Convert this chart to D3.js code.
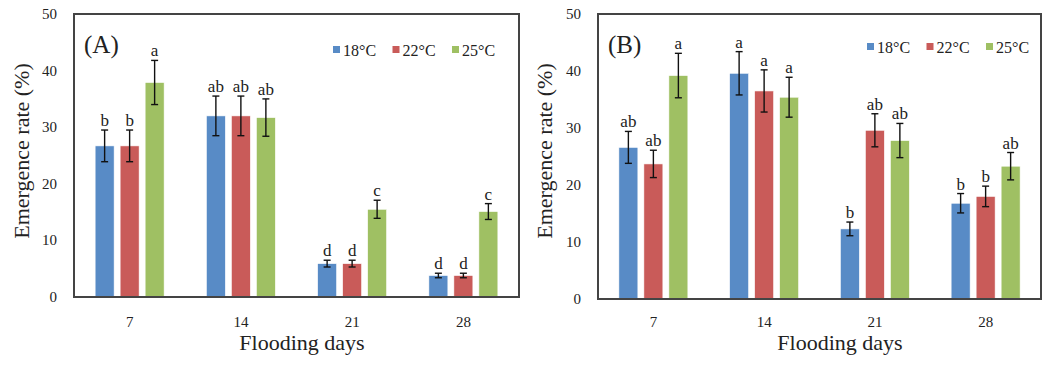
<!DOCTYPE html>
<html>
<head>
<meta charset="utf-8">
<script src="https://cdn.jsdelivr.net/npm/d3@7"></script>
<style>
  body { margin: 0; background: #fff; }
  text { font-family: "Liberation Serif", "Times New Roman", serif; fill: #222; }
</style>
</head>
<body>
<svg id="chart" width="1043" height="366"></svg>
<script>
// data
var days = ["7", "14", "21", "28"];
var temps = ["18°C", "22°C", "25°C"];
var colors = ["#588bc6", "#c95b59", "#9fc063"];
var yTicks = [0, 10, 20, 30, 40, 50];

// panel A: means, errors, letters per temperature
var aMeans = [[26.7, 32.0, 5.9, 3.8], [26.7, 32.0, 5.9, 3.8], [37.9, 31.7, 15.5, 15.1]];
var aErr = [[2.8, 3.5, 0.6, 0.4], [2.8, 3.5, 0.6, 0.4], [3.9, 3.3, 1.6, 1.4]];
var aLetters = [["b", "ab", "d", "d"], ["b", "ab", "d", "d"], ["a", "ab", "c", "c"]];

// panel B
var bMeans = [[26.6, 39.6, 12.3, 16.8], [23.7, 36.5, 29.6, 18.0], [39.2, 35.4, 27.8, 23.3]];
var bErr = [[2.8, 3.8, 1.2, 1.7], [2.4, 3.7, 2.9, 1.8], [3.9, 3.5, 3.0, 2.4]];
var bLetters = [["ab", "a", "b", "b"], ["ab", "a", "ab", "b"], ["a", "a", "ab", "ab"]];

var svg = d3.select("#chart");

// draw one panel
function drawPanel(opt) {
  var g = svg.append("g");

  var x = d3.scaleBand().domain(days).range([opt.left, opt.right]);
  var y = d3.scaleLinear().domain([0, 50]).range([opt.bottom, opt.top]);
  var inner = d3.scaleBand().domain(d3.range(temps.length))
                .range([-34.5, 34.5]).paddingInner(0.24);

  // bars
  temps.forEach(function(t, s) {
    var rows = days.map(function(d, i) {
      return { day: d, v: opt.means[s][i], e: opt.err[s][i], l: opt.letters[s][i] };
    });
    var cx = function(d) { return x(d.day) + x.bandwidth() / 2 + inner(s); };

    g.selectAll(null).data(rows).enter().append("rect")
     .attr("x", cx)
     .attr("y", function(d) { return y(d.v); })
     .attr("width", inner.bandwidth())
     .attr("height", function(d) { return y(0) - y(d.v); })
     .attr("fill", colors[s])
     .attr("stroke", "#fff").attr("stroke-width", 0.6);

    var mid = function(d) { return cx(d) + inner.bandwidth() / 2; };

    // error bars
    var eb = g.selectAll(null).data(rows).enter().append("g")
              .attr("stroke", "#111").attr("stroke-width", 1.4);
    eb.append("line")
      .attr("x1", mid).attr("x2", mid)
      .attr("y1", function(d) { return y(d.v + d.e); })
      .attr("y2", function(d) { return y(d.v - d.e); });
    [1, -1].forEach(function(sign) {
      eb.append("line")
        .attr("x1", function(d) { return mid(d) - 3.5; })
        .attr("x2", function(d) { return mid(d) + 3.5; })
        .attr("y1", function(d) { return y(d.v + sign * d.e); })
        .attr("y2", function(d) { return y(d.v + sign * d.e); });
    });

    // significance letters
    g.selectAll(null).data(rows).enter().append("text")
     .attr("x", mid)
     .attr("y", function(d) { return y(d.v + d.e) - 4; })
     .attr("text-anchor", "middle")
     .style("font-size", "17px")
     .text(function(d) { return d.l; });
  });

  // frame
  g.append("rect")
   .attr("x", opt.left).attr("y", opt.top)
   .attr("width", opt.right - opt.left).attr("height", opt.bottom - opt.top)
   .attr("fill", "none").attr("stroke", "#444").attr("stroke-width", 2);

  // y tick labels
  g.selectAll(null).data(yTicks).enter().append("text")
   .attr("x", opt.left - 17)
   .attr("y", function(d) { return y(d) + 5; })
   .attr("text-anchor", "end")
   .style("font-size", "15px")
   .text(function(d) { return d; });

  // x tick labels
  g.selectAll(null).data(days).enter().append("text")
   .attr("x", function(d) { return x(d) + x.bandwidth() / 2; })
   .attr("y", 327)
   .attr("text-anchor", "middle")
   .style("font-size", "15px")
   .text(function(d) { return d; });

  // axis titles
  g.append("text")
   .attr("transform", "translate(" + opt.yTitleX + ",151) rotate(-90)")
   .attr("text-anchor", "middle")
   .style("font-size", "22px")
   .text("Emergence rate (%)");

  g.append("text")
   .attr("x", opt.xTitleX).attr("y", 350)
   .attr("text-anchor", "middle")
   .style("font-size", "22px")
   .text("Flooding days");

  // panel label
  g.append("text")
   .attr("x", opt.left + 10).attr("y", opt.top + 39)
   .style("font-size", "25px")
   .text(opt.label);

  // legend
  var lg = g.selectAll(null).data(temps).enter().append("g")
            .attr("transform", function(d, i) {
              return "translate(" + (opt.legendX + i * 59.5) + "," + opt.legendY + ")";
            });
  lg.append("rect")
    .attr("x", 0).attr("y", -4).attr("width", 7).attr("height", 7)
    .attr("fill", function(d, i) { return colors[i]; });
  lg.append("text")
    .attr("x", 10).attr("y", 5.5)
    .style("font-size", "16px")
    .text(function(d) { return d; });
}

drawPanel({
  label: "(A)", left: 74, right: 519, top: 14, bottom: 297,
  means: aMeans, err: aErr, letters: aLetters,
  yTitleX: 29, xTitleX: 302, legendX: 333, legendY: 50
});

drawPanel({
  label: "(B)", left: 598, right: 1041, top: 14, bottom: 299,
  means: bMeans, err: bErr, letters: bLetters,
  yTitleX: 552, xTitleX: 840, legendX: 867, legendY: 47
});
</script>
</body>
</html>
